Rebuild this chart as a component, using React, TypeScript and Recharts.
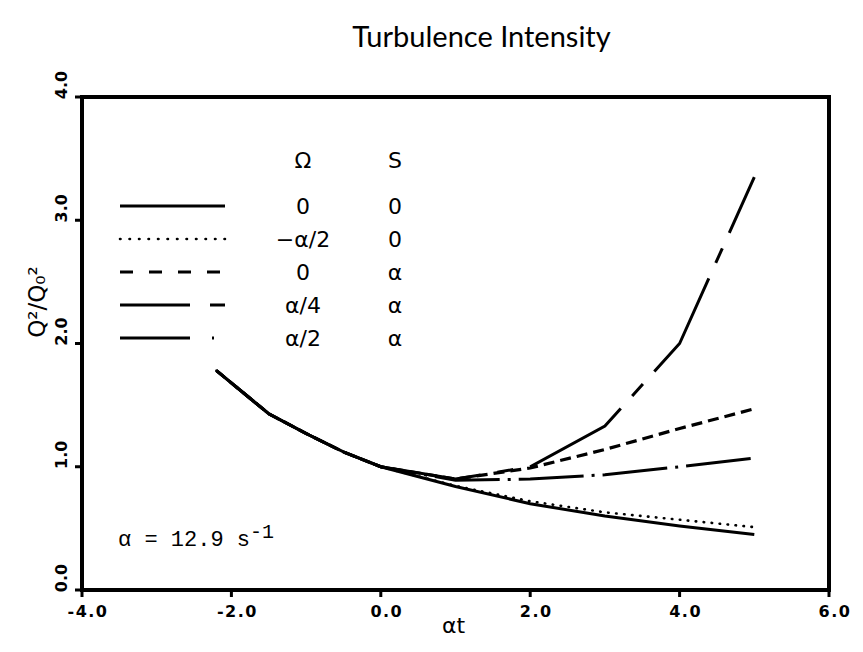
import { Legend, Line, LineChart, ReferenceArea, XAxis, YAxis } from "recharts";

const alphaT = [-2.2, -1.5, -1.0, -0.5, 0, 1, 2, 3, 4, 5];

// Q²/Q₀² for each (Ω, S) case
const omega0S0 = [1.78, 1.43, 1.27, 1.12, 1.0, 0.84, 0.7, 0.6, 0.52, 0.45];
const omegaNegHalfS0 = [1.78, 1.43, 1.27, 1.12, 1.0, 0.845, 0.72, 0.63, 0.57, 0.51];
const omega0SA = [1.78, 1.43, 1.27, 1.12, 1.0, 0.9, 0.99, 1.14, 1.31, 1.47];
const omegaQuarterSA = [1.78, 1.43, 1.27, 1.12, 1.0, 0.9, 1.0, 1.33, 2.0, 3.35];
const omegaHalfSA = [1.78, 1.43, 1.27, 1.12, 1.0, 0.89, 0.9, 0.935, 1.0, 1.07];

const xTicks = [-4, -2, 0, 2, 4, 6];
const yTicks = [0, 1, 2, 3, 4];

const series = [
  { key: "a", omega: "0", s: "0", values: omega0S0, dash: undefined, offset: 0, legendDash: undefined, width: 3 },
  { key: "b", omega: "−α/2", s: "0", values: omegaNegHalfS0, dash: "0.5 7.5", offset: 0, legendDash: "0.5 9", width: 2.6 },
  { key: "c", omega: "0", s: "α", values: omega0SA, dash: "11 6", offset: 0, legendDash: "13 16", width: 3.2 },
  { key: "d", omega: "α/4", s: "α", values: omegaQuarterSA, dash: "109 17 16 17", offset: 134, legendDash: "70 20 15", width: 3 },
  { key: "e", omega: "α/2", s: "α", values: omegaHalfSA, dash: "65 8 3 8", offset: 5, legendDash: "70 22 2", width: 3 },
];

const data = alphaT.map((x, i) => {
  const row: Record<string, number> = { at: x };
  series.forEach((s) => (row[s.key] = s.values[i]));
  return row;
});

const tickFont = { fontFamily: "DejaVu Sans", fontWeight: 700, fontSize: 16, fill: "#000" };
const legendFont = { fontFamily: "DejaVu Sans", fontSize: 22, fill: "#000" };

function fmt(v: number) {
  return (v < 0 ? "-" : "") + Math.abs(v).toFixed(1);
}

function XTick({ x, y, payload }: any) {
  return (
    <text x={x + 6} y={y + 18} textAnchor="middle" letterSpacing={1.5} {...tickFont}>
      {fmt(payload.value)}
    </text>
  );
}

function YTick({ x, y, payload }: any) {
  const cx = x - 6;
  const cy = y - 12;
  return (
    <text x={cx} y={cy} textAnchor="middle" transform={`rotate(-90, ${cx}, ${cy})`} {...tickFont}>
      {fmt(payload.value)}
    </text>
  );
}

function YLabel({ viewBox }: any) {
  const cx = 37;
  const cy = viewBox.y + 205;
  return (
    <text x={cx} y={cy} textAnchor="middle" transform={`rotate(-90, ${cx}, ${cy})`} {...legendFont} fontSize={23}>
      Q²/Q₀²
    </text>
  );
}

function LegendBox() {
  const rowY = [68, 101, 134, 167, 200];
  return (
    <svg width={320} height={215}>
      <text x={195} y={30} textAnchor="middle" {...legendFont}>Ω</text>
      <text x={287} y={30} textAnchor="middle" {...legendFont}>S</text>
      {series.map((s, i) => (
        <g key={s.key}>
          <line
            x1={12}
            x2={117}
            y1={rowY[i]}
            y2={rowY[i]}
            stroke="#000"
            strokeWidth={s.width}
            strokeDasharray={s.legendDash}
            strokeLinecap={s.key === "b" ? "round" : "butt"}
          />
          <text x={195} y={rowY[i] + 8} textAnchor="middle" {...legendFont}>{s.omega}</text>
          <text x={287} y={rowY[i] + 8} textAnchor="middle" {...legendFont}>{s.s}</text>
        </g>
      ))}
    </svg>
  );
}

export default function App() {
  return (
    <div style={{ position: "relative", width: 847, height: 636, background: "#fff" }}>
      <div
        style={{
          position: "absolute",
          left: 0,
          width: 947,
          top: 10,
          textAlign: "center",
          fontFamily: "Lato",
          fontSize: 29,
          color: "#000",
        }}
      >
        Turbulence Intensity
      </div>
      <LineChart
        width={847}
        height={636}
        data={data}
        margin={{ top: 89, right: 26, bottom: 14, left: 14 }}
      >
        <XAxis
          dataKey="at"
          type="number"
          domain={[-4, 6]}
          ticks={xTicks}
          axisLine={false}
          tickLine={{ stroke: "#000", strokeWidth: 3 }}
          tickSize={7}
          tick={<XTick />}
          height={40}
        />
        <YAxis
          type="number"
          domain={[0, 4]}
          ticks={yTicks}
          axisLine={false}
          tickLine={{ stroke: "#000", strokeWidth: 3 }}
          tickSize={7}
          tick={<YTick />}
          width={60}
          label={<YLabel />}
        />
        <ReferenceArea x1={-4} x2={6} y1={0} y2={4} fill="none" stroke="#000" strokeWidth={4} />
        {series.map((s) => (
          <Line
            key={s.key}
            dataKey={s.key}
            type="linear"
            stroke="#000"
            strokeWidth={s.width}
            strokeDasharray={s.dash}
            strokeDashoffset={s.offset}
            strokeLinecap={s.key === "b" ? "round" : "butt"}
            dot={false}
            activeDot={false}
            isAnimationActive={false}
          />
        ))}
        <Legend
          layout="horizontal"
          verticalAlign="middle"
          content={<LegendBox />}
          wrapperStyle={{ left: 100, top: 130, width: 320, height: 215 }}
        />
      </LineChart>
      <div
        style={{
          position: "absolute",
          left: 110,
          top: 513,
          fontFamily: "Liberation Mono",
          fontSize: 22,
          color: "#000",
        }}
      >
        α = 12.9 s<sup style={{ fontSize: 20 }}>-1</sup>
      </div>
      <div
        style={{
          position: "absolute",
          left: 434,
          top: 605,
          fontFamily: "DejaVu Sans",
          fontSize: 22,
          color: "#000",
        }}
      >
        αt
      </div>
    </div>
  );
}
